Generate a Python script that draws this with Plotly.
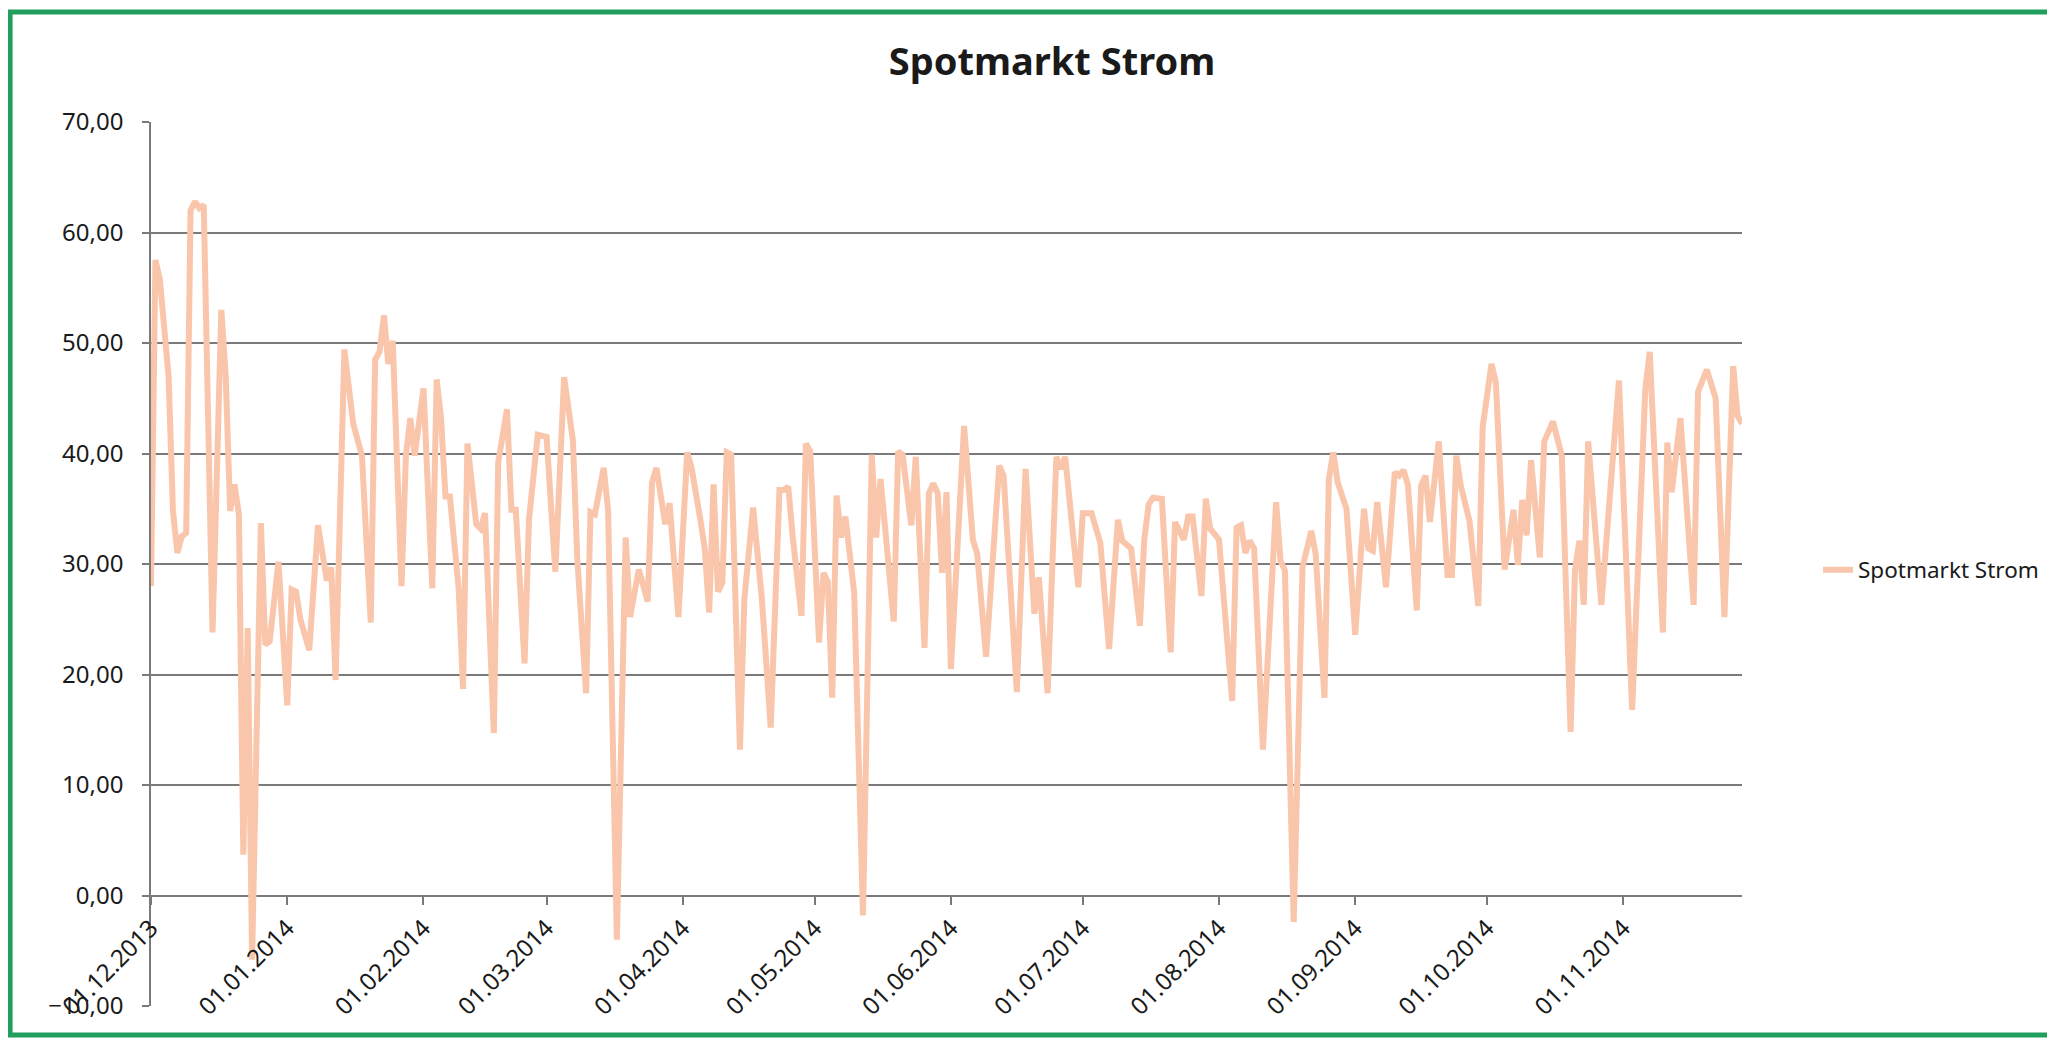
import pandas as pd
import plotly.graph_objects as go

# ---- data ----
start_date = "2013-12-01"
day_offsets = [
    0, 1, 2, 4, 5, 6, 7, 8, 9, 10, 11, 12, 14, 16, 17, 18, 19, 20, 21, 22, 23, 25, 26, 27, 29,
    31, 32, 33, 34, 36, 38, 39, 40, 41, 42, 44, 46, 48, 50, 51, 52, 53, 54, 55, 57, 58, 59, 60,
    61, 62, 64, 65, 66, 67, 68, 70, 71, 72, 73, 74, 75, 76, 78, 79, 81, 82, 83, 85, 86, 87, 88,
    90, 92, 94, 96, 97, 99, 100, 101, 103, 104, 106, 108, 109, 110, 111, 113, 114, 115, 117, 118,
    120, 122, 123, 125, 126, 127, 128, 129, 130, 131, 132, 134, 135, 137, 139, 141, 143, 144, 145,
    146, 148, 149, 150, 152, 153, 154, 155, 156, 157, 158, 160, 162, 164, 165, 166, 169, 170, 171,
    173, 174, 176, 177, 178, 179, 180, 181, 182, 185, 187, 188, 190, 193, 194, 197, 199, 201, 202,
    204, 206, 207, 208, 211, 212, 214, 216, 218, 220, 221, 223, 225, 226, 227, 228, 230, 232, 233,
    235, 236, 237, 239, 240, 241, 243, 246, 247, 248, 249, 250, 251, 253, 256, 257, 258, 260, 262,
    264, 265, 267, 268, 269, 270, 272, 274, 276, 277, 278, 279, 281, 283, 284, 285, 286, 288, 289,
    290, 291, 293, 295, 296, 297, 298, 300, 302, 303, 305, 306, 308, 310, 311, 312, 313, 314, 316,
    317, 319, 321, 323, 324, 325, 326, 327, 330, 332, 334, 337, 340, 341, 344, 345, 346, 348, 351,
    352, 354, 356, 358, 360, 361, 362,
]
prices = [
    28.0, 57.5, 55.8, 47.0, 34.8, 31.0, 32.5, 32.8, 62.0, 62.8, 62.2, 62.5, 23.8, 53.0, 47.0, 34.8,
    37.2, 34.5, 3.7, 24.2, -5.8, 33.7, 22.7, 23.0, 30.2,
    17.2, 27.7, 27.5, 25.0, 22.2, 33.5, 30.7, 28.5, 29.7, 19.5, 49.4, 42.7, 39.8, 24.7, 48.5, 49.2,
    52.5, 48.1, 50.2, 28.0, 39.8, 43.2, 39.8,
    42.9, 45.9, 27.8, 46.7, 43.2, 36.1, 36.1, 27.8, 18.7, 40.9, 37.3, 33.6, 33.2, 34.6, 14.7, 39.2,
    44.0, 34.9, 34.9, 21.0, 34.0, 38.2, 41.7,
    41.5, 29.3, 46.9, 41.2, 30.4, 18.3, 34.7, 34.5, 38.7, 34.9, -4.0, 32.4, 25.2, 27.5, 29.5, 26.6,
    37.4, 38.7, 33.6, 35.5,
    25.2, 40.1, 38.7, 34.0, 31.4, 25.6, 37.2, 27.5, 28.3, 40.1, 39.9, 13.2, 26.8, 35.1, 26.8, 15.2,
    36.7, 36.7, 37.0,
    32.5, 25.3, 40.9, 40.2, 22.9, 29.2, 28.4, 17.9, 36.2, 32.4, 34.3, 27.4, -1.8, 39.9, 32.4, 37.7,
    24.8, 40.2, 39.9,
    33.5, 39.7, 22.4, 36.4, 37.3, 36.4, 29.2, 36.5, 20.5, 42.5, 32.2, 30.9, 21.6, 38.9, 38.0, 18.4,
    38.6, 25.5, 28.8,
    18.3, 39.7, 38.6, 39.7, 27.9, 34.6, 34.6, 31.9, 22.3, 34.0, 32.1, 31.4, 24.4, 32.2, 35.4, 36.0,
    35.9, 22.0, 33.8,
    32.2, 34.3, 34.3, 27.1, 35.9, 33.2, 32.2, 17.6, 33.3, 33.5, 31.0, 32.1, 31.4, 13.2, 35.6, 30.3,
    29.4, -2.4, 29.7,
    33.0, 30.9, 17.9, 37.7, 40.1, 37.4, 35.0, 23.6, 35.0, 31.4, 31.2, 35.6, 27.9, 38.3, 38.0, 38.5,
    37.1, 25.8, 37.1,
    38.0, 33.8, 41.1, 29.0, 29.0, 39.8, 37.1, 33.9, 26.2, 42.4, 48.1, 46.4, 29.5, 34.9, 29.9, 35.8,
    32.6, 39.4, 30.6,
    41.1, 42.9, 39.8, 14.8, 29.4, 32.1, 26.3, 41.1, 26.3, 35.7, 46.6, 16.8, 45.8, 49.2, 23.8, 41.0,
    36.5, 43.2, 26.3,
    45.6, 47.6, 45.0, 25.2, 47.9, 43.4, 42.7,
]
series_name = "Spotmarkt Strom"
chart_title = "Spotmarkt Strom"
y_ticks = [-10, 0, 10, 20, 30, 40, 50, 60, 70]

dates = pd.Timestamp(start_date) + pd.to_timedelta(day_offsets, unit="D")

fig = go.Figure()
fig.add_trace(go.Scatter(
    x=dates, y=prices, mode="lines", name=series_name,
    line=dict(color="#f9c6ab", width=6),
))

# page body has an 8px margin: the figure is drawn from (8, 8) of the window
OFF = 8
W, H = 2055 - OFF, 1040 - OFF
L, R, T, B = 151 - OFF, 312, 122 - OFF, 34
pw, ph = W - L - R, H - T - B

def px_x(x):  # window pixel -> paper
    return (x - OFF - L) / pw

def px_y(y):
    return (H - B - (y - OFF)) / ph

grid_col = "#7a7a7a"
fig.update_layout(
    width=W, height=H,
    margin=dict(l=L, r=R, t=T, b=B),
    paper_bgcolor="white", plot_bgcolor="white",
    separators=", ",
    showlegend=True,
    font=dict(family="Noto Sans", color="#1a1a1a"),
    title=dict(text="<b>" + chart_title + "</b>", x=(1052 - OFF) / W, xanchor="center",
               y=1 - (62 - OFF) / H, yanchor="middle", xref="container", yref="container",
               font=dict(size=38, family="Noto Sans", color="#1a1a1a")),
    legend=dict(x=px_x(1818), xanchor="left", y=px_y(570), yanchor="middle",
                font=dict(size=22.5, family="Noto Sans", color="#1a1a1a"),
                bgcolor="rgba(0,0,0,0)"),
    xaxis=dict(
        type="date",
        range=[pd.Timestamp(start_date), pd.Timestamp(start_date) + pd.Timedelta(days=362)],
        tick0=start_date, dtick="M1", tickformat="%d.%m.%Y",
        tickangle=-45, tickfont=dict(size=24, family="Noto Sans", color="#1a1a1a"),
        ticks="outside", ticklen=8, tickcolor=grid_col, tickwidth=1.5,
        showgrid=False, zeroline=False, showline=False,
        anchor="free", position=0.125,
    ),
    yaxis=dict(
        range=[-10, 70], tickvals=y_ticks, tickformat=".2f",
        tickfont=dict(size=24, family="Noto Sans", color="#1a1a1a"),
        showgrid=True, gridcolor=grid_col, gridwidth=1.5,
        zeroline=False, showline=True, linecolor=grid_col, linewidth=1.5,
        ticks="outside", ticklen=7, tickcolor=grid_col, tickwidth=1.5,
        ticklabelstandoff=14,
    ),
    shapes=[dict(type="rect", xref="paper", yref="paper",
                 x0=px_x(10), x1=px_x(2070), y0=px_y(1035), y1=px_y(12),
                 line=dict(color="#1f9e5c", width=5), fillcolor="rgba(0,0,0,0)", layer="below")],
)

fig.write_html("out.html")
